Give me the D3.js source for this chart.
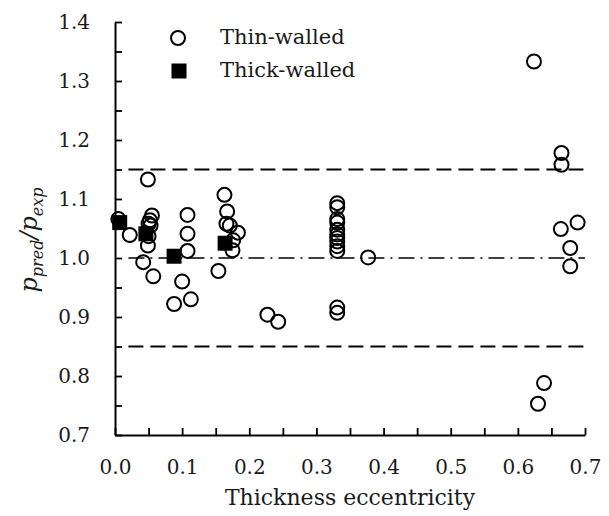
<!DOCTYPE html>
<html>
<head>
<meta charset="utf-8">
<script src="https://cdn.jsdelivr.net/npm/d3@7"></script>
<style>
    body { margin: 0; background: #fff; }
</style>
</head>
<body>
<div id="my_dataviz"></div>
<script>
// thin-walled specimens: eccentricity / ratio
const thinX = [0.005, 0.022, 0.049, 0.055, 0.052, 0.050, 0.053, 0.050, 0.049, 0.042, 0.057,
    0.108, 0.108, 0.108, 0.100, 0.088, 0.113,
    0.163, 0.167, 0.166, 0.171, 0.183, 0.176, 0.175, 0.154,
    0.227, 0.243,
    0.331, 0.331, 0.331, 0.331, 0.331, 0.331, 0.331, 0.331, 0.331, 0.331, 0.331, 0.331,
    0.377,
    0.624, 0.665, 0.665, 0.689, 0.664, 0.678, 0.678, 0.639, 0.630];
const thinY = [1.066, 1.039, 1.133, 1.072, 1.064, 1.058, 1.055, 1.037, 1.021, 0.993, 0.969,
    1.073, 1.041, 1.012, 0.960, 0.922, 0.930,
    1.107, 1.079, 1.058, 1.055, 1.043, 1.030, 1.013, 0.978,
    0.904, 0.892,
    1.093, 1.086, 1.066, 1.060, 1.048, 1.040, 1.034, 1.028, 1.020, 1.012, 0.916, 0.907,
    1.001,
    1.333, 1.178, 1.158, 1.060, 1.049, 1.017, 0.986, 0.788, 0.753];

// thick-walled specimens
const thickX = [0.007, 0.046, 0.088, 0.164];
const thickY = [1.060, 1.041, 1.003, 1.025];

// reference lines (upper / mean / lower)
const refLines = [
    { value: 1.15, dash: "15,7" },
    { value: 1.00, dash: "16,6,2,6" },
    { value: 0.85, dash: "15,7" }
];

const xTicks = d3.range(0, 15).map(i => i * 0.05);
const yTicks = d3.range(0, 15).map(i => 0.7 + i * 0.05);

const width = 609,
    height = 516;
const serif = "DejaVu Serif";

const svg = d3.select('#my_dataviz')
    .append('svg')
    .attr('width', width)
    .attr('height', height)
    .attr('font-family', serif);

const x = d3.scaleLinear().domain([0, 0.7]).range([115, 585]);
const y = d3.scaleLinear().domain([0.7, 1.4]).range([435, 22]);

// every 0.05 gets a tick, only the tenths get a label
const isTenth = v => Math.abs(v * 10 - Math.round(v * 10)) < 1e-6;

// reference lines first, under the markers
svg.selectAll("refline")
    .data(refLines)
    .join("line")
    .attr("x1", x(0.02))
    .attr("x2", x(0.7))
    .attr("y1", d => y(d.value))
    .attr("y2", d => y(d.value))
    .attr("stroke", "#000")
    .attr("stroke-width", d => d.value === 1 ? 1.6 : 2)
    .attr("stroke-dasharray", d => d.dash);

// x axis
const xAxis = svg.append("g")
    .attr("transform", `translate(0, ${y(0.7)})`)
    .call(d3.axisBottom(x)
        .tickValues(xTicks)
        .tickSizeInner(-7)
        .tickSizeOuter(0)
        .tickPadding(25)
        .tickFormat(d => isTenth(d) ? d3.format(".1f")(d) : ""));

// y axis
const yAxis = svg.append("g")
    .attr("transform", `translate(${x(0)}, 0)`)
    .call(d3.axisLeft(y)
        .tickValues(yTicks)
        .tickSizeInner(-7)
        .tickSizeOuter(0)
        .tickPadding(25)
        .tickFormat(d => isTenth(d) ? d3.format(".1f")(d) : ""));

[xAxis, yAxis].forEach(function (g) {
    g.attr("font-family", serif);
    g.select(".domain").attr("stroke", "#000").attr("stroke-width", 2);
    g.selectAll(".tick line").attr("stroke", "#000").attr("stroke-width", 1.8);
    g.selectAll(".tick text")
        .attr("font-size", "20px")
        .attr("fill", "#1a1a1a");
});

// thin-walled: open circles
svg.selectAll("thin")
    .data(thinX.map((v, i) => [v, thinY[i]]))
    .join("circle")
    .attr("cx", d => x(d[0]))
    .attr("cy", d => y(d[1]))
    .attr("r", 7)
    .attr("fill", "none")
    .attr("stroke", "#000")
    .attr("stroke-width", 2);

// thick-walled: filled squares, drawn on top
const sq = 15;
svg.selectAll("thick")
    .data(thickX.map((v, i) => [v, thickY[i]]))
    .join("rect")
    .attr("x", d => x(d[0]) - sq / 2)
    .attr("y", d => y(d[1]) - sq / 2)
    .attr("width", sq)
    .attr("height", sq)
    .attr("fill", "#000");

// legend
const legend = svg.append("g");
legend.append("circle")
    .attr("cx", 178)
    .attr("cy", 38)
    .attr("r", 7)
    .attr("fill", "none")
    .attr("stroke", "#000")
    .attr("stroke-width", 2);
legend.append("rect")
    .attr("x", 179 - sq / 2)
    .attr("y", 71 - sq / 2)
    .attr("width", sq)
    .attr("height", sq)
    .attr("fill", "#000");
legend.selectAll("labels")
    .data([["Thin-walled", 38], ["Thick-walled", 71]])
    .join("text")
    .attr("x", 220)
    .attr("y", d => d[1])
    .attr("dy", "0.3em")
    .attr("font-size", "21px")
    .attr("fill", "#1a1a1a")
    .text(d => d[0]);

// x title
svg.append("text")
    .attr("x", (x(0) + x(0.7)) / 2)
    .attr("y", 505)
    .attr("text-anchor", "middle")
    .attr("font-size", "22px")
    .attr("fill", "#1a1a1a")
    .text("Thickness eccentricity");

// y title: p_pred / p_exp, italic with subscripts
const yTitle = svg.append("text")
    .attr("transform", "translate(37, 240) rotate(-90)")
    .attr("text-anchor", "middle")
    .attr("font-size", "24px")
    .attr("font-style", "italic")
    .attr("fill", "#1a1a1a");
yTitle.append("tspan").text("p");
yTitle.append("tspan").attr("dy", 6).attr("font-size", "16px").text("pred");
yTitle.append("tspan").attr("dy", -6).text("/p");
yTitle.append("tspan").attr("dy", 6).attr("font-size", "16px").text("exp");
</script>
</body>
</html>
